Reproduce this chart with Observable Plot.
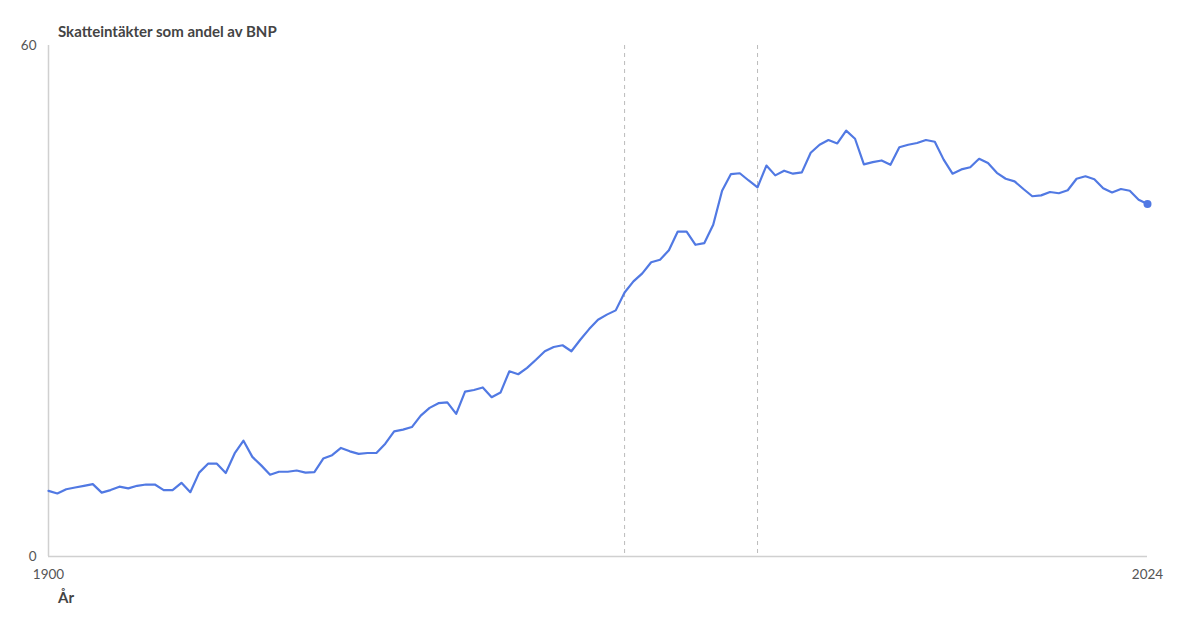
<!DOCTYPE html>
<html>
<head>
<meta charset="utf-8">
<script src="https://cdn.jsdelivr.net/npm/d3@7"></script>
<script src="https://cdn.jsdelivr.net/npm/@observablehq/plot@0.6"></script>
<style>
  html, body { margin: 0; padding: 0; background: #fff; }
  #wrap { position: relative; width: 1200px; height: 630px; font-family: Lato, "Open Sans", sans-serif; }
  #title { position: absolute; left: 58px; top: 22px; font-size: 15px; font-weight: 700; color: #444; }
  #xlabel { position: absolute; left: 58px; top: 588px; font-size: 15px; font-weight: 700; color: #444; }
  #chart { position: absolute; left: 0; top: 0; }
</style>
</head>
<body>
<div id="wrap">
  <div id="chart"></div>
  <div id="title">Skatteintäkter som andel av BNP</div>
  <div id="xlabel">År</div>
</div>
<script>
const firstYear = 1900;
const taxShare = [
  7.7, 7.4, 7.9, 8.1, 8.3, 8.5, 7.5, 7.8, 8.2, 8.0,
  8.3, 8.45, 8.45, 7.8, 7.8, 8.65, 7.55, 9.85, 10.9, 10.9,
  9.8, 12.1, 13.6, 11.7, 10.7, 9.6, 9.95, 9.95, 10.1, 9.85,
  9.9, 11.5, 11.9, 12.75, 12.35, 12.05, 12.15, 12.15, 13.25, 14.7,
  14.9, 15.2, 16.55, 17.45, 18.0, 18.1, 16.75, 19.35, 19.55, 19.85,
  18.7, 19.25, 21.75, 21.4, 22.15, 23.1, 24.1, 24.6, 24.8, 24.1,
  25.45, 26.7, 27.8, 28.4, 28.9, 31.0, 32.3, 33.25, 34.55, 34.85,
  35.95, 38.15, 38.15, 36.6, 36.8, 38.95, 42.95, 44.9, 45.0, 44.15,
  43.35, 45.9, 44.75, 45.3, 44.95, 45.1, 47.4, 48.35, 48.9, 48.5,
  50.0, 49.05, 46.05, 46.3, 46.5, 46.0, 48.05, 48.35, 48.55, 48.9,
  48.7, 46.6, 44.95, 45.45, 45.7, 46.7, 46.2, 45.05, 44.35, 44.05,
  43.15, 42.3, 42.4, 42.8, 42.65, 43.0, 44.35, 44.65, 44.3, 43.25,
  42.75, 43.15, 42.95, 41.9, 41.4
];
const markerYears = [1965, 1980];
const xTicks = [1900, 2024];
const yTicks = [0, 60];

const data = taxShare.map((v, i) => ({year: firstYear + i, value: v}));
const last = data[data.length - 1];
const lineColor = "#5179e3";

const chart = Plot.plot({
  width: 1200,
  height: 630,
  marginLeft: 48,
  marginRight: 53,
  marginTop: 45,
  marginBottom: 74,
  style: { fontFamily: "Lato, 'Open Sans', sans-serif", fontSize: "13.5px", color: "#555", background: "#fff" },
  x: { domain: [1900, 2024], ticks: xTicks, tickFormat: d => String(d), tickSize: 0, tickPadding: 13, label: null },
  y: { domain: [0, 60], ticks: yTicks, tickSize: 0, tickPadding: 12, label: null },
  marks: [
    Plot.ruleX(markerYears, { stroke: "#bbb", strokeWidth: 1, strokeDasharray: "4,4" }),
    Plot.ruleY([0], { stroke: "#d0d0d0", strokeWidth: 1.5 }),
    Plot.ruleX([1900], { stroke: "#d0d0d0", strokeWidth: 1.5 }),
    Plot.lineY(data, { x: "year", y: "value", stroke: lineColor, strokeWidth: 2.2 }),
    Plot.dot([last], { x: "year", y: "value", r: 4, fill: lineColor, stroke: "none" })
  ]
});
document.getElementById("chart").appendChild(chart);
</script>
</body>
</html>
